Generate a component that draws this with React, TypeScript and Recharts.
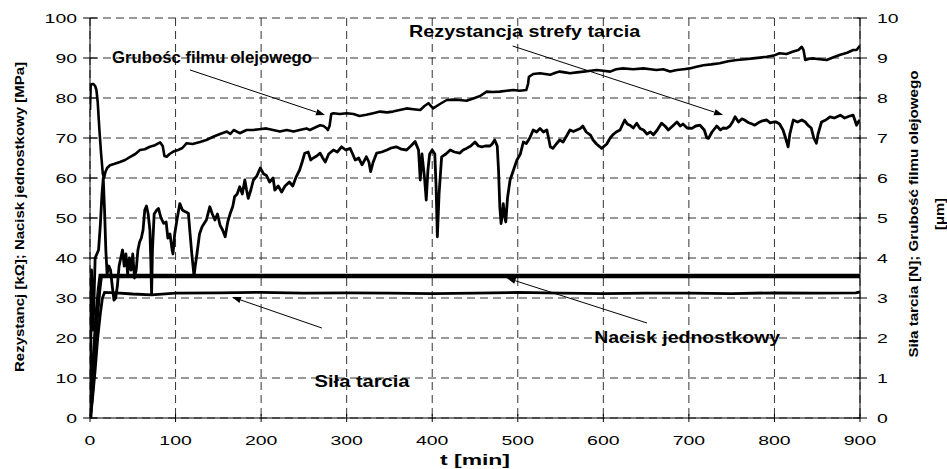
import React from 'react';
import { LineChart, Line, XAxis, YAxis, CartesianGrid, ReferenceLine, ReferenceDot } from 'recharts';

// time ticks [min]
const tTicks = [0, 100, 200, 300, 400, 500, 600, 700, 800, 900];
const leftTicks = [0, 10, 20, 30, 40, 50, 60, 70, 80, 90, 100];
const rightTicks = [0, 1, 2, 3, 4, 5, 6, 7, 8, 9, 10];

// Rezystancja strefy tarcia [kΩ] (left axis) — [t, value]
const resistance: [number, number][] = [
  [0, 0], [1, 20], [1.8, 37], [2.6, 30], [3.5, 22], [4.5, 28], [6, 40], [8, 41], [10, 42], [12, 48], [14, 56], [15.5, 60],
  [17, 52], [18.5, 42], [20, 36], [22, 38], [24, 37], [26, 33], [28, 29.5], [30, 30], [32, 33], [34, 38], [36, 40], [38, 42],
  [40, 38], [42, 41], [44, 36], [46, 40], [48, 37], [50, 41], [52, 35], [54, 37], [56, 42], [58, 44], [60, 45], [62, 47],
  [64, 52], [66, 53], [68, 51], [70, 47], [71, 40], [72, 31], [73, 42], [75, 51], [78, 52], [80, 52.4], [83, 50], [86, 48.7],
  [89, 49], [91, 45], [93.5, 46], [96, 42], [97, 41], [99, 46], [102, 50], [105, 53.6], [108, 52], [111, 51.6], [115, 51.2],
  [117, 46], [119, 41], [121.6, 35.5], [123, 38], [125, 41], [128, 46], [131, 47.8], [136, 49.5], [140, 52.8], [143, 51],
  [146, 49.5], [149, 51], [152, 48.2], [155, 47], [158, 45.3], [161, 49], [164, 51.2], [167, 53], [169, 55.3], [172, 56],
  [175, 57.8], [178, 56], [181, 59.5], [183, 57], [185, 54.9], [188, 57], [191, 59.5], [195, 60.5], [199, 62.5], [203, 61],
  [206, 60.7], [210, 59], [214, 60], [216, 57], [220, 58], [224, 56.5], [228, 58], [233, 59], [237, 58], [241, 60.3], [245, 62],
  [248, 64], [251, 66.2], [255, 66.5], [258, 64.5], [261, 65], [265, 65.5], [269, 66.2], [272, 65], [275, 64], [279, 66],
  [284.5, 67], [289, 66.5], [294, 67.8], [299, 67], [304, 67.4], [307, 66], [310, 64.5], [314, 65], [318, 63.3], [323, 65.3],
  [326, 64], [328, 61.6], [331, 64], [335, 66.2], [341, 66.5], [347, 67], [352, 67.5], [358, 67.8], [364, 67.2], [370, 67],
  [375, 68], [380, 69.1], [384, 67], [386, 59.5], [388, 66], [389.5, 63], [391, 60], [393, 54.5], [395, 62], [397, 66],
  [400, 67], [403, 66], [404.5, 58], [406, 45.3], [408, 56], [411, 65.3], [416, 66], [421, 67], [426, 66.5], [432, 66.2],
  [436, 67], [440, 67.4], [445, 68], [450, 69], [454, 68], [458, 67.8], [462, 68], [467.5, 68], [470, 68.5], [473, 69.5],
  [476, 68], [477.5, 62], [479, 52.8], [480.5, 48.6], [482, 51], [483, 53.6], [485, 50], [486, 49], [488, 55], [491, 59.5],
  [495, 62], [499, 64.5], [503, 66], [506.5, 69], [510, 68.6], [514, 70], [518, 72], [522, 71.5], [526, 72.4], [530, 71.5],
  [534, 72], [536, 70], [538, 67.8], [541, 67.4], [545, 68.5], [549, 69.5], [553, 69], [557, 70.5], [561, 72], [565, 71.6],
  [569, 72], [573, 72.4], [576, 73], [580, 71.5], [585, 70.7], [588, 69.5], [592, 68.5], [596, 67.8], [598, 67.4], [600, 67.8],
  [604, 68.5], [608, 70], [611, 70.8], [615, 71.5], [619.5, 72], [625, 74.5], [628, 73.5], [631, 73.2], [635, 72.5],
  [639, 73.7], [643, 72.4], [647, 72], [651, 71], [655, 71.5], [658.5, 70.8], [663, 72], [668, 73.7], [672, 73], [676, 72],
  [681, 73], [686, 74], [690, 73], [693, 73.5], [698, 72.5], [703.5, 72.4], [708, 73], [713, 73.2], [718, 72], [721, 70],
  [723, 69.9], [727, 71.5], [732.5, 73], [737, 72], [740, 72.5], [744, 72.4], [748, 73], [751, 74], [754, 75.3], [758, 74],
  [762, 74.8], [765, 74.5], [770, 73.8], [774, 73.5], [777, 73.2], [781, 73.8], [786, 74.3], [791, 74.5], [795, 73.8],
  [799, 74], [802, 74], [806, 73.5], [810, 72], [813, 70], [816, 67.8], [818, 71], [822, 74.5], [827, 74], [832, 74.5],
  [836, 74], [839, 73.2], [843, 72.5], [846, 70], [849, 68.7], [851, 71], [855, 74], [860, 74.5], [865, 75.3], [870, 75],
  [877, 75.7], [882, 75], [888, 75.5], [892, 75.7], [894, 74.5], [896, 73.2], [898, 74], [900, 74.5],
];

// Grubość filmu olejowego [μm] (right axis)
const filmThickness: [number, number][] = [
  [0, 7.7], [0.8, 8.3], [2, 8.35], [4, 8.35], [6, 8.3], [7.5, 8.2], [9, 7.9], [11, 7.2], [13, 6.6], [15, 6.1], [16.5, 6.0],
  [18, 6.15], [20, 6.25], [23.4, 6.32], [28, 6.35], [35, 6.4], [41, 6.45], [47, 6.53], [53, 6.6], [58.4, 6.7], [64, 6.72],
  [70, 6.78], [76, 6.82], [82, 6.89], [85, 6.8], [87, 6.55], [89.6, 6.53], [93, 6.6], [97.4, 6.66], [103, 6.7], [108, 6.75],
  [113, 6.87], [120, 6.85], [128.6, 6.9], [136, 6.95], [144, 7.03], [152, 7.1], [160, 7.16], [164, 7.1], [168, 7.2],
  [175, 7.12], [183, 7.2], [191, 7.2], [198, 7.22], [206, 7.24], [214, 7.2], [222, 7.16], [230, 7.2], [238, 7.16], [245, 7.2],
  [253, 7.24], [257, 7.2], [265, 7.28], [269, 7.32], [273, 7.3], [276, 7.25], [278, 7.2], [280, 7.3], [282, 7.6], [284.5, 7.62],
  [292, 7.6], [300, 7.62], [308, 7.6], [315, 7.55], [323, 7.58], [331, 7.62], [339, 7.66], [347, 7.64], [354, 7.66], [362, 7.7],
  [370, 7.74], [378, 7.72], [386, 7.7], [391, 7.8], [395.5, 7.87], [401, 7.74], [409, 7.85], [417, 7.95], [425, 7.96],
  [432, 7.95], [440, 7.93], [448, 7.99], [456, 8.05], [463.6, 8.16], [471, 8.15], [479, 8.16], [487, 8.18], [494.8, 8.2],
  [502, 8.18], [510, 8.2], [512, 8.35], [513, 8.53], [518, 8.6], [526, 8.62], [532, 8.6], [538, 8.58], [544, 8.63], [549, 8.66],
  [555, 8.64], [561, 8.62], [569, 8.64], [577, 8.66], [585, 8.68], [592, 8.7], [600, 8.68], [608, 8.66], [615, 8.72],
  [623, 8.74], [635, 8.72], [647, 8.74], [655, 8.72], [662, 8.7], [670, 8.72], [678, 8.66], [686, 8.7], [694, 8.72],
  [701, 8.74], [709, 8.78], [717, 8.82], [726, 8.84], [736, 8.87], [746, 8.92], [756, 8.95], [766, 8.97], [775, 8.99],
  [783, 9.01], [791, 9.03], [799, 9.06], [806, 9.12], [814, 9.1], [822, 9.16], [828, 9.2], [832, 9.28], [834, 9.2],
  [836, 8.95], [841, 8.98], [845, 8.99], [853, 8.97], [861, 8.95], [869, 9.02], [877, 9.08], [885, 9.13], [892, 9.2],
  [896, 9.2], [899, 9.28], [900, 9.3],
];

// Nacisk jednostkowy [MPa] (left axis)
const pressure: [number, number][] = [
  [0, 0], [2, 6], [5, 16], [8, 26], [10.5, 32], [12.5, 35.5], [100, 35.5], [300, 35.5], [500, 35.5], [700, 35.5], [900, 35.5],
];

// Siła tarcia [N] (right axis)
const friction: [number, number][] = [
  [0, 0], [3, 0.5], [6, 1.2], [9, 2.0], [12, 2.6], [14.5, 3.0], [17, 3.14], [30, 3.13], [50, 3.1], [72, 3.08], [100, 3.12],
  [150, 3.13], [200, 3.14], [250, 3.12], [300, 3.13], [350, 3.12], [400, 3.11], [450, 3.12], [500, 3.14], [550, 3.12],
  [600, 3.11], [650, 3.12], [700, 3.12], [750, 3.11], [800, 3.13], [850, 3.12], [895, 3.13], [900, 3.15],
];

const annotationTexts = ['Grubośc filmu olejowego', 'Rezystancja strefy tarcia', 'Nacisk jednostkowy', 'Siła tarcia'];
const annotationTextAt: [number, number][] = [[142.6, 90.25], [508, 96.75], [698, 20.25], [318, 9.25]];
const annotationTextWidth = [200, 231, 186, 95];
const annotationArrowFrom: [number, number][] = [[117, 87], [494, 93], [651, 23.75], [271, 22.5]];
const annotationArrowTo: [number, number][] = [[274.7, 75.75], [740, 75.75], [487, 35], [166, 30.25]];

const toPts = (arr: [number, number][]) => arr.map(([t, v]) => ({ t, v }));

const FONT = '"Liberation Sans", Arial, Helvetica, sans-serif';
const DIGIT_W = 10.8;

const LeftTick = (p: any) => {
  const { x, y, payload } = p;
  const s = String(payload.value);
  return (
    <g>
      <line x1={x - 7} x2={x + 7} y1={y} y2={y} stroke="#000" strokeWidth={1} />
      <text x={x - 13} y={y + 4.8} textAnchor="end" fontSize={13.5} fontFamily={FONT} fill="#000"
        textLength={s.length * DIGIT_W} lengthAdjust="spacingAndGlyphs">{s}</text>
    </g>
  );
};

const RightTick = (p: any) => {
  const { x, y, payload } = p;
  const s = String(payload.value);
  return (
    <g>
      <line x1={x - 7} x2={x + 7} y1={y} y2={y} stroke="#000" strokeWidth={1} />
      <text x={x + 17} y={y + 4.8} textAnchor="start" fontSize={13.5} fontFamily={FONT} fill="#000"
        textLength={s.length * DIGIT_W} lengthAdjust="spacingAndGlyphs">{s}</text>
    </g>
  );
};

const BottomTick = (p: any) => {
  const { x, y, payload } = p;
  const s = String(payload.value);
  return (
    <g>
      <line x1={x} x2={x} y1={y - 4} y2={y + 4} stroke="#000" strokeWidth={1} />
      <text x={x} y={y + 27} textAnchor="middle" fontSize={13.5} fontFamily={FONT} fill="#000"
        textLength={s.length * DIGIT_W} lengthAdjust="spacingAndGlyphs">{s}</text>
    </g>
  );
};

const ArrowShape = (p: any) => {
  const { x1, y1, x2, y2 } = p;
  if ([x1, y1, x2, y2].some((v) => typeof v !== 'number' || isNaN(v))) return null;
  const dx = x2 - x1;
  const dy = y2 - y1;
  const len = Math.sqrt(dx * dx + dy * dy) || 1;
  const ux = dx / len;
  const uy = dy / len;
  const hl = 9;
  const hw = 3.2;
  const bx = x2 - ux * hl;
  const by = y2 - uy * hl;
  const pts = `${x2},${y2} ${bx - uy * hw},${by + ux * hw} ${bx + uy * hw},${by - ux * hw}`;
  return (
    <g>
      <line x1={x1} y1={y1} x2={bx} y2={by} stroke="#000" strokeWidth={1} />
      <polygon points={pts} fill="#000" />
    </g>
  );
};

const makeTextShape = (text: string, width: number) => (p: any) => {
  const { cx, cy } = p;
  if (typeof cx !== 'number' || typeof cy !== 'number') return null;
  return (
    <text x={cx} y={cy + 6} textAnchor="middle" fontSize={16.5} fontWeight="bold" fontFamily={FONT} fill="#000"
      textLength={width} lengthAdjust="spacingAndGlyphs">{text}</text>
  );
};

const LeftTitle = (p: any) => {
  const vb = p.viewBox || {};
  const cx = vb.x + 9;
  const cy = vb.y + vb.height / 2 - 1;
  return (
    <text transform={`translate(${cx},${cy}) rotate(-90)`} x={0} y={4.5} textAnchor="middle" fontSize={13}
      fontWeight="bold" fontFamily={FONT} fill="#000" textLength={310} lengthAdjust="spacingAndGlyphs">
      Rezystancj [kΩ]; Nacisk jednostkowy [MPa]
    </text>
  );
};

const RightTitle = (p: any) => {
  const vb = p.viewBox || {};
  const cy = vb.y + vb.height / 2 - 4;
  const x1 = vb.x + 53.5;
  const x2 = vb.x + 79;
  return (
    <g>
      <text transform={`translate(${x1},${cy}) rotate(-90)`} x={0} y={4.5} textAnchor="middle" fontSize={13}
        fontWeight="bold" fontFamily={FONT} fill="#000" textLength={287} lengthAdjust="spacingAndGlyphs">
        Siła tarcia [N]; Grubość filmu olejowego
      </text>
      <text transform={`translate(${x2},${cy}) rotate(-90)`} x={0} y={4.5} textAnchor="middle" fontSize={13}
        fontWeight="bold" fontFamily={FONT} fill="#000" textLength={32} lengthAdjust="spacingAndGlyphs">
        [μm]
      </text>
    </g>
  );
};

const BottomTitle = (p: any) => {
  const vb = p.viewBox || {};
  return (
    <text x={vb.x + vb.width / 2} y={vb.y + 47} textAnchor="middle" fontSize={15} fontWeight="bold"
      fontFamily={FONT} fill="#000" textLength={70} lengthAdjust="spacingAndGlyphs">t [min]</text>
  );
};

export default function App() {
  return (
    <div style={{ position: 'absolute', left: 0, top: 0, width: 947, height: 469, background: '#fff' }}>
      <LineChart width={947} height={469} margin={{ top: 18, right: 7, bottom: 11, left: 10 }}>
        <CartesianGrid yAxisId="left" stroke="#333" strokeDasharray="8 5" strokeWidth={1} />
        <XAxis
          dataKey="t"
          type="number"
          domain={[0, 900]}
          ticks={tTicks}
          height={40}
          tickSize={0}
          tickMargin={0}
          tick={<BottomTick />}
          axisLine={{ stroke: '#000', strokeWidth: 1 }}
          allowDataOverflow
          label={<BottomTitle />}
        />
        <YAxis
          yAxisId="left"
          domain={[0, 100]}
          ticks={leftTicks}
          width={80}
          tickSize={0}
          tickMargin={0}
          tick={<LeftTick />}
          axisLine={{ stroke: '#000', strokeWidth: 1 }}
          allowDataOverflow
          label={<LeftTitle />}
        />
        <YAxis
          yAxisId="right"
          orientation="right"
          domain={[0, 10]}
          ticks={rightTicks}
          width={80}
          tickSize={0}
          tickMargin={0}
          tick={<RightTick />}
          axisLine={{ stroke: '#000', strokeWidth: 1 }}
          allowDataOverflow
          label={<RightTitle />}
        />
        <Line yAxisId="left" data={toPts(pressure)} dataKey="v" type="linear" stroke="#000" strokeWidth={4.5}
          dot={false} activeDot={false} isAnimationActive={false} />
        <Line yAxisId="right" data={toPts(friction)} dataKey="v" type="linear" stroke="#000" strokeWidth={2.8}
          dot={false} activeDot={false} isAnimationActive={false} />
        <Line yAxisId="left" data={toPts(resistance)} dataKey="v" type="linear" stroke="#000" strokeWidth={2.8}
          strokeLinejoin="round" dot={false} activeDot={false} isAnimationActive={false} />
        <Line yAxisId="right" data={toPts(filmThickness)} dataKey="v" type="linear" stroke="#000" strokeWidth={2.6}
          strokeLinejoin="round" dot={false} activeDot={false} isAnimationActive={false} />
        {annotationTexts.map((txt, i) => (
          <ReferenceLine
            key={`arrow-${i}`}
            yAxisId="left"
            segment={[
              { x: annotationArrowFrom[i][0], y: annotationArrowFrom[i][1] },
              { x: annotationArrowTo[i][0], y: annotationArrowTo[i][1] },
            ]}
            stroke="#000"
            shape={<ArrowShape />}
            ifOverflow="visible"
          />
        ))}
        {annotationTexts.map((txt, i) => (
          <ReferenceDot
            key={`txt-${i}`}
            yAxisId="left"
            x={annotationTextAt[i][0]}
            y={annotationTextAt[i][1]}
            r={0}
            ifOverflow="visible"
            shape={makeTextShape(txt, annotationTextWidth[i])}
          />
        ))}
      </LineChart>
    </div>
  );
}
